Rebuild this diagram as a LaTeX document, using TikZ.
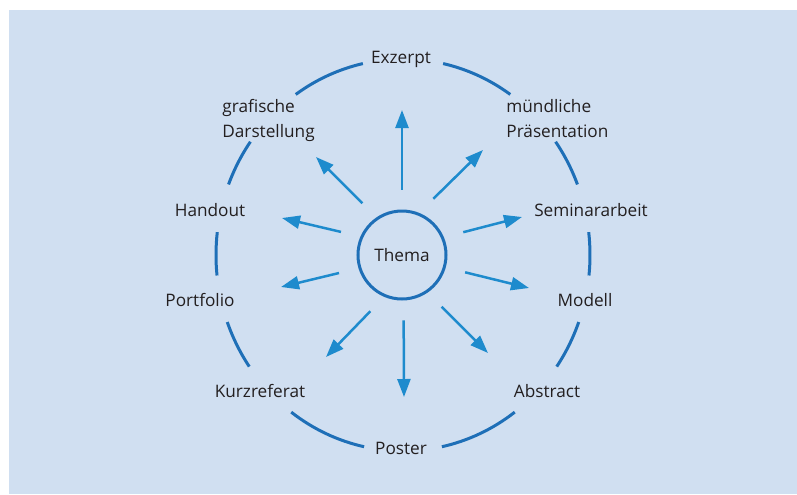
\documentclass[tikz,border=0pt]{standalone}
\usepackage{fontspec}
\setmainfont{Open Sans}
\usepackage{tikz}
\usetikzlibrary{arrows.meta}
\definecolor{panel}{HTML}{D0DFF1}
\definecolor{rimblue}{HTML}{1E6FB7}
\definecolor{spokeblue}{HTML}{1E8BCD}
\definecolor{ink}{HTML}{231F20}

\begin{document}
\begin{tikzpicture}[
    x=0.5pt, y=0.5pt,
    font=\fontsize{8.6}{12.5}\selectfont, text=ink,
    topic/.style={circle, draw=rimblue, line width=1.5pt, minimum size=44pt, inner sep=0pt},
    item/.style={inner sep=0pt, anchor=base},
    spoke/.style={-{Triangle[length=9pt, width=6.5pt]}, line width=1.25pt, spokeblue, shorten <=10pt},
    rimline/.style={line width=1.5pt, rimblue}
  ]
    \useasboundingbox (-403,-239) rectangle (394,255);
    \fill[panel] (-394,-239) rectangle (394,245);

    \node[topic] (thema) at (-1,0) {Thema};

    \node[item] (exzerpt) at (-2,192) {Exzerpt};
    \node[item, align=left, anchor=base west] (grafisch) at (-181,118) {grafische\\Darstellung};
    \node[item, align=left, anchor=base west] (muendlich) at (103,118) {mündliche\\Präsentation};
    \node[item] (handout) at (-193,39) {Handout};
    \node[item] (seminar) at (188,39) {Seminararbeit};
    \node[item] (portfolio) at (-203,-51) {Portfolio};
    \node[item] (modell) at (182,-51) {Modell};
    \node[item] (kurz) at (-143,-142) {Kurzreferat};
    \node[item] (abstract) at (144,-142) {Abstract};
    \node[item] (poster) at (-2,-199) {Poster};

    % arrow tips
    \coordinate (tipExzerpt) at (-1,145);
    \coordinate (tipGrafisch) at (-87,98);
    \coordinate (tipMuendlich) at (80,105);
    \coordinate (tipHandout) at (-121,37);
    \coordinate (tipSeminar) at (119,38);
    \coordinate (tipPortfolio) at (-122,-32);
    \coordinate (tipModell) at (126,-33);
    \coordinate (tipKurz) at (-77,-102);
    \coordinate (tipAbstract) at (85,-98);
    \coordinate (tipPoster) at (1,-142);

    \draw[spoke] (thema.90) -- (tipExzerpt);
    \draw[spoke] (thema.124) -- (tipGrafisch);
    \draw[spoke] (thema.68) -- (tipMuendlich);
    \draw[spoke] (thema.156) -- (tipHandout);
    \draw[spoke] (thema.23) -- (tipSeminar);
    \draw[spoke] (thema.197) -- (tipPortfolio);
    \draw[spoke] (thema.344) -- (tipModell);
    \draw[spoke] (thema.247) -- (tipKurz);
    \draw[spoke] (thema.304) -- (tipAbstract);
    \draw[spoke] (thema.272) -- (tipPoster);

    % outer ring, broken at the labels
    \draw[rimline] (102.4:187 and 196) arc[start angle=102.4, end angle=125, x radius=187, y radius=196];
    \draw[rimline] (144.7:187 and 196) arc[start angle=144.7, end angle=158.9, x radius=187, y radius=196];
    \draw[rimline] (173.3:187 and 196) arc[start angle=173.3, end angle=186, x radius=187, y radius=196];
    \draw[rimline] (200:187 and 196) arc[start angle=200, end angle=214.7, x radius=187, y radius=196];
    \draw[rimline] (233.3:187 and 196) arc[start angle=233.3, end angle=258, x radius=187, y radius=196];
    \draw[rimline] (282:187 and 196) arc[start angle=282, end angle=306.7, x radius=187, y radius=196];
    \draw[rimline] (325.3:187 and 196) arc[start angle=325.3, end angle=340, x radius=187, y radius=196];
    \draw[rimline] (354:187 and 196) arc[start angle=354, end angle=366.7, x radius=187, y radius=196];
    \draw[rimline] (21.1:187 and 196) arc[start angle=21.1, end angle=35.3, x radius=187, y radius=196];
    \draw[rimline] (55:187 and 196) arc[start angle=55, end angle=77.6, x radius=187, y radius=196];
\end{tikzpicture}
\end{document}
